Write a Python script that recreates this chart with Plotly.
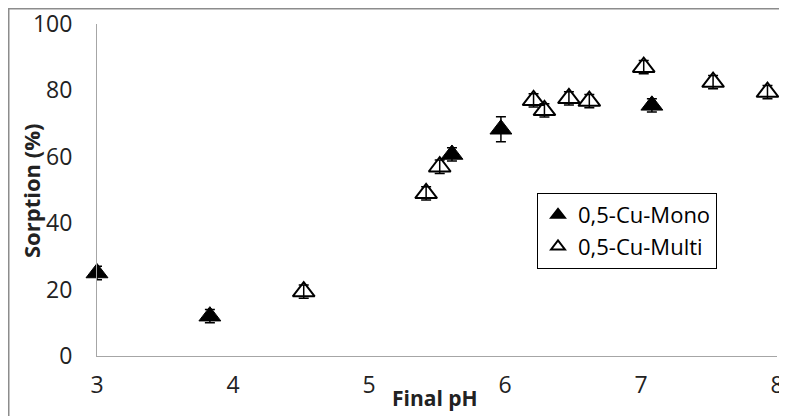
import plotly.graph_objects as go

# Data
mono_ph = [3.0, 3.83, 5.61, 5.97, 7.08]
mono_sorption = [25.0, 12.0, 60.7, 68.3, 75.5]
mono_err = [2.0, 2.0, 2.0, 3.8, 2.0]

multi_ph = [4.52, 5.42, 5.52, 6.21, 6.29, 6.47, 6.62, 7.02, 7.53, 7.93]
multi_sorption = [19.4, 49.0, 57.0, 77.0, 74.0, 77.6, 76.8, 87.0, 82.5, 79.5]
multi_err = [2.0, 2.0, 2.0, 2.0, 2.0, 2.0, 2.0, 2.0, 2.0, 2.0]

x_ticks = [3, 4, 5, 6, 7, 8]
y_ticks = [0, 20, 40, 60, 80, 100]

FONT = "Open Sans"
NARROW = "Liberation Sans Narrow, Open Sans"

# plot area in figure pixels (page body has an 8px margin)
W, H = 779, 408
L, R, T, B = 89, 10, 16, 60
PW, PH = W - L - R, H - T - B

fig = go.Figure()
fig.add_trace(go.Scatter(
    x=mono_ph, y=mono_sorption, mode="markers", name="0,5-Cu-Mono",
    cliponaxis=False,
    marker=dict(symbol="triangle-up", size=19, color="black",
                line=dict(color="black", width=1)),
    error_y=dict(type="data", array=mono_err, color="black", thickness=1.5, width=5),
))
fig.add_trace(go.Scatter(
    x=multi_ph, y=multi_sorption, mode="markers", name="0,5-Cu-Multi",
    cliponaxis=False,
    marker=dict(symbol="triangle-up-open", size=19, color="black",
                line=dict(color="black", width=2)),
    error_y=dict(type="data", array=multi_err, color="black", thickness=1.5, width=5),
))

fig.update_layout(
    width=W, height=H,
    margin=dict(l=L, r=R, t=T, b=B, autoexpand=False),
    paper_bgcolor="white", plot_bgcolor="white",
    font=dict(family=FONT, color="#222222"),
    showlegend=True,
    legend=dict(
        x=(537 - 97) / PW, y=(356 - 193) / PH, xanchor="left", yanchor="top",
        bgcolor="white", bordercolor="black", borderwidth=1,
        font=dict(size=22, family=FONT, color="black"),
        itemsizing="constant", tracegroupgap=0, itemwidth=30,
    ),
    xaxis=dict(
        range=[3, 8], tickvals=x_ticks, showgrid=False, zeroline=False,
        automargin=False, ticklabeloverflow="allow",
        showline=True, linecolor="#A6A6A6", linewidth=1,
        ticks="outside", ticklen=8, tickcolor="rgba(0,0,0,0)",
        tickfont=dict(size=23, family=FONT, color="#222222"),
    ),
    yaxis=dict(
        range=[0, 100], tickvals=y_ticks, showgrid=False, zeroline=False,
        automargin=False, ticklabeloverflow="allow",
        showline=True, linecolor="#A6A6A6", linewidth=1,
        ticks="outside", ticklen=19, tickcolor="rgba(0,0,0,0)",
        tickfont=dict(size=23, family=FONT, color="#222222"),
    ),
    annotations=[
        dict(text="<b>Final pH</b>", xref="paper", yref="paper",
             x=(435 - 97) / PW, y=-(398 - 356) / PH, xanchor="center", yanchor="middle",
             showarrow=False, font=dict(size=21, family=NARROW, color="#222222")),
        dict(text="<b>Sorption (%)</b>", xref="paper", yref="paper",
             x=-(97 - 31) / PW, y=(356 - 191) / PH, xanchor="center", yanchor="middle",
             textangle=-90, showarrow=False,
             font=dict(size=22, family=FONT, color="#222222")),
    ],
    shapes=[dict(type="rect", xref="paper", yref="paper",
                 x0=-(L - 0.75) / PW, x1=1.2, y0=-0.5, y1=(PH + T - 0.75) / PH,
                 line=dict(color="#8C8C8C", width=1.5), layer="below")],
)

fig.write_html("out.html")
